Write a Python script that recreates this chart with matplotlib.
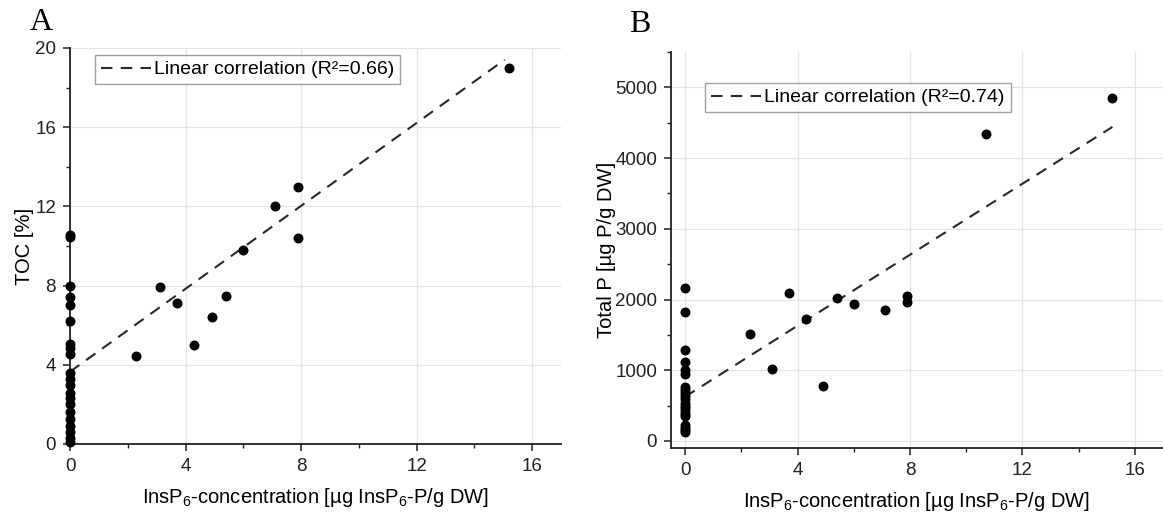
import numpy as np
import matplotlib
matplotlib.use('Agg')
import matplotlib.pyplot as plt
from matplotlib.ticker import MultipleLocator

plt.rcParams['font.family'] = ['Liberation Sans', 'DejaVu Sans']
plt.rcParams['mathtext.fontset'] = 'custom'
plt.rcParams['mathtext.rm'] = 'Liberation Sans'
plt.rcParams['mathtext.it'] = 'Liberation Sans:italic'

# panel A : TOC vs InsP6
toc_x0 = [10.55, 10.45, 8.0, 7.4, 7.0, 6.2, 5.05, 4.85, 4.55, 3.6, 3.3, 3.0, 2.6, 2.3,
          2.0, 1.6, 1.25, 0.9, 0.6, 0.3, 0.1]
toc_x = [2.3, 3.1, 3.7, 4.3, 4.9, 5.4, 6.0, 7.1, 7.9, 7.9, 15.2]
toc_y = [4.45, 7.95, 7.1, 5.0, 6.4, 7.5, 9.8, 12.0, 13.0, 10.4, 19.0]
toc_fit = [3.65, 1.047]   # intercept, slope
toc_fit_x = [0, 15.05]

# panel B : total P vs InsP6
tp_x0 = [2160, 1830, 1285, 1120, 1010, 950, 760, 720, 680, 640, 600, 540, 500, 460,
         420, 380, 350, 220, 180, 150, 120]
tp_x = [2.3, 3.1, 3.7, 4.3, 4.9, 5.4, 6.0, 7.1, 7.9, 7.9, 10.7, 15.2]
tp_y = [1510, 1016, 2093, 1731, 781, 2023, 1943, 1849, 2046, 1966, 4337, 4845]
tp_fit = [625, 251]
tp_fit_x = [0, 15.2]

xlabel = r'InsP$_6$-concentration [µg InsP$_6$-P/g DW]'

W, H = 1163, 512
fig = plt.figure(figsize=(W/100, H/100), dpi=100)

def px_axes(l, t, r, b):
    return fig.add_axes([l/W, 1-b/H, (r-l)/W, (b-t)/H])

def style(ax, xminor, yminor):
    for s in ['top', 'right']:
        ax.spines[s].set_visible(False)
    for s in ['left', 'bottom']:
        ax.spines[s].set_linewidth(1.3)
        ax.spines[s].set_color('#222222')
    ax.xaxis.set_major_locator(MultipleLocator(4))
    ax.xaxis.set_minor_locator(MultipleLocator(xminor))
    ax.yaxis.set_minor_locator(MultipleLocator(yminor))
    ax.tick_params(which='major', direction='out', length=5, width=1.1, labelsize=13.5,
                   colors='#222222', pad=5)
    ax.tick_params(which='minor', direction='out', length=3, width=1.0, colors='#222222')
    ax.grid(True, which='major', color='#e4e4e4', linewidth=0.9)
    ax.set_axisbelow(True)

def add_legend(ax, x, y):
    leg = ax.legend(loc='upper left', bbox_to_anchor=(x, y), borderaxespad=0,
                    fontsize=14, frameon=True, fancybox=False, handlelength=2.6,
                    handletextpad=0.15, borderpad=0.3)
    leg.get_frame().set_edgecolor('#888888')
    leg.get_frame().set_linewidth(1.0)
    return leg

dash = (0, (5.5, 4))

# ---- A
axA = px_axes(70, 48, 561, 444)
style(axA, 2, 2)
axA.set_xlim(0, 17)
axA.set_ylim(0, 20)
axA.yaxis.set_major_locator(MultipleLocator(4))
fx = np.array(toc_fit_x)
axA.plot(fx, toc_fit[0] + toc_fit[1]*fx, color='#2a2a2a', lw=1.5, ls=dash,
         label='Linear correlation (R²=0.66)', zorder=3)
axA.scatter([0]*len(toc_x0), toc_x0, s=38, color='black', zorder=4, clip_on=False)
axA.scatter(toc_x, toc_y, s=38, color='black', zorder=4)
axA.set_xlabel(xlabel, fontsize=14.5, labelpad=8)
axA.set_ylabel('TOC [%]', fontsize=14.5, labelpad=1)
add_legend(axA, 25/491, 1-7/396)
fig.text(41/W, 1-22/H, 'A', fontsize=23, family='Liberation Serif', ha='center', va='center')

# ---- B
axB = px_axes(671, 52, 1163, 448)
style(axB, 2, 500)
axB.set_xlim(-0.5, 17)
axB.set_ylim(-100, 5500)
axB.yaxis.set_major_locator(MultipleLocator(1000))
fx = np.array(tp_fit_x)
axB.plot(fx, tp_fit[0] + tp_fit[1]*fx, color='#2a2a2a', lw=1.5, ls=dash,
         label='Linear correlation (R²=0.74)', zorder=3)
axB.scatter([0]*len(tp_x0), tp_x0, s=38, color='black', zorder=4)
axB.scatter(tp_x, tp_y, s=38, color='black', zorder=4)
axB.set_xlabel(xlabel, fontsize=14.5, labelpad=8)
axB.set_ylabel('Total P [µg P/g DW]', fontsize=14.5, labelpad=-1)
add_legend(axB, 34/492, 1-31/396)
fig.text(640/W, 1-24/H, 'B', fontsize=23, family='Liberation Serif', ha='center', va='center')

fig.savefig('out.png', dpi=100)
